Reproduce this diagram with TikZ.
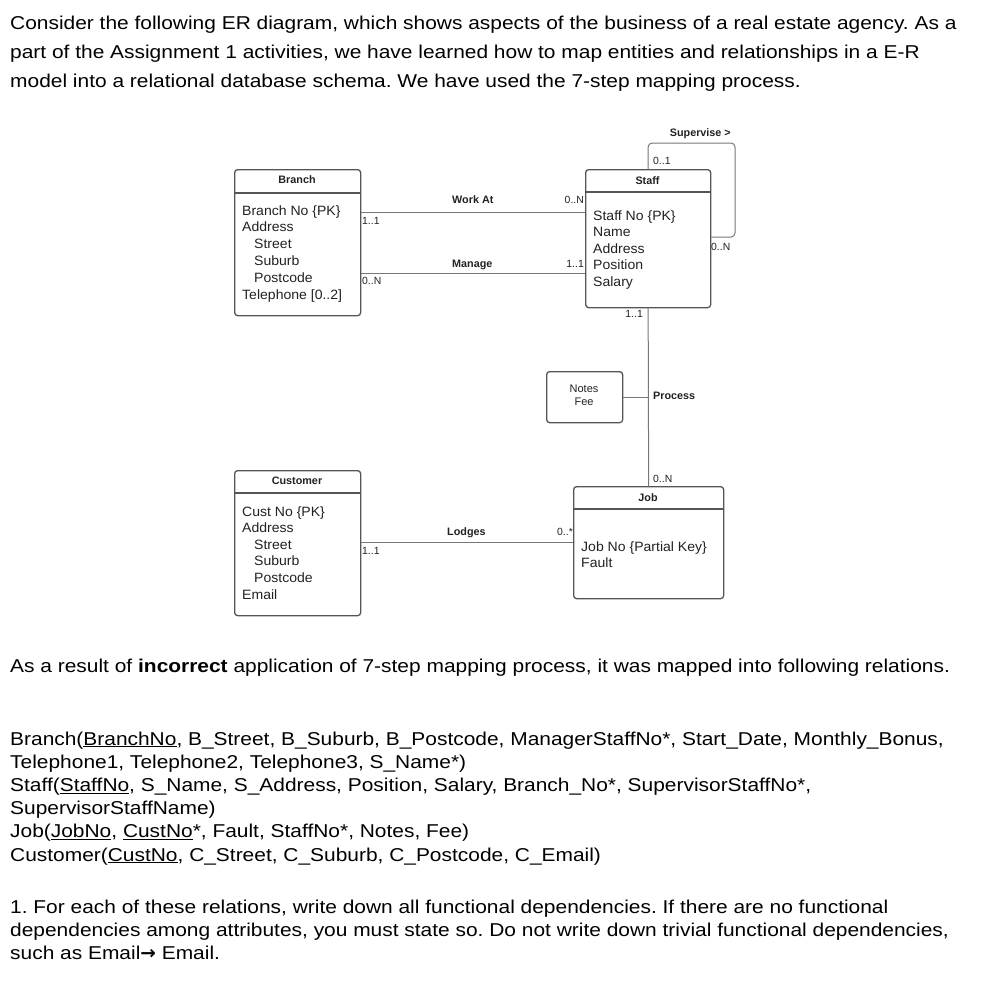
\documentclass[tikz,border=0pt]{standalone}
\usepackage{fontspec}
\setmainfont{Liberation Sans}
\newfontfamily\bodyfont[FakeStretch=1.125]{Liberation Sans}
\newfontfamily\attrfont[FakeStretch=1.04]{Liberation Sans}
\newfontfamily\arrowfont{DejaVu Sans}
\definecolor{boxc}{HTML}{555555}
\definecolor{linec}{HTML}{777777}
\definecolor{dtext}{HTML}{222222}
\frenchspacing
\begin{document}
\begin{tikzpicture}[x=1pt,y=-1pt,
  ent/.style={draw=boxc, line width=1.3pt, rounded corners=3pt, anchor=north west, inner sep=0pt},
  entline/.style={draw=boxc, line width=1.3pt},
  conn/.style={draw=linec, line width=1pt},
  hdr/.style={font=\fontsize{10.8}{13}\selectfont\bfseries, text=dtext, anchor=base, inner sep=0pt},
  attr/.style={font=\attrfont\fontsize{13.5}{16.7}\selectfont, text=dtext, anchor=base west, inner sep=0pt},
  card/.style={font=\fontsize{10.4}{12}\selectfont, text=dtext, anchor=base west, inner sep=0pt},
  rel/.style={font=\fontsize{10.8}{13}\selectfont\bfseries, text=dtext, anchor=base west, inner sep=0pt},
  small/.style={font=\fontsize{11}{12.5}\selectfont, text=dtext, anchor=base, inner sep=0pt},
  body/.style={font=\bodyfont\fontsize{18.6}{23}\selectfont, anchor=base west, inner sep=0pt}]
\fill[white] (0,0) rectangle (993,980);
\path[use as bounding box] (0,0) rectangle (993,980);

% ---------- top paragraph ----------
\node[body] (p1) at (10,29) {Consider the following ER diagram, which shows aspects of the business of a real estate agency. As a};
\node[body] (p2) at (10,58) {part of the Assignment 1 activities, we have learned how to map entities and relationships in a E-R};
\node[body] (p3) at (10,87) {model into a relational database schema. We have used the 7-step mapping process.};

% ---------- entities ----------
\node[ent, minimum width=126pt, minimum height=146pt] (branch) at (234,169) {};
\draw[entline] (234,193) -- (360,193);
\node[hdr] (branchh) at (297,183) {Branch};
\foreach \t [count=\i] in {Branch No \{PK\}, Address, {\hspace*{12pt}Street}, {\hspace*{12pt}Suburb}, {\hspace*{12pt}Postcode}, Telephone [0..2]}
  \node[attr] (brancha\i) at (242,{215+16.8*(\i-1)}) {\t};

\node[ent, minimum width=125pt, minimum height=138pt] (staff) at (585,169) {};
\draw[entline] (585,192) -- (710,192);
\node[hdr] (staffh) at (647.5,184) {Staff};
\foreach \t [count=\i] in {Staff No \{PK\}, Name, Address, Position, Salary}
  \node[attr] (staffa\i) at (593,{220+16.5*(\i-1)}) {\t};

\node[ent, minimum width=126pt, minimum height=145pt] (customer) at (234,470) {};
\draw[entline] (234,493) -- (360,493);
\node[hdr] (customerh) at (297,484) {Customer};
\foreach \t [count=\i] in {Cust No \{PK\}, Address, {\hspace*{12pt}Street}, {\hspace*{12pt}Suburb}, {\hspace*{12pt}Postcode}, Email}
  \node[attr] (customera\i) at (242,{516+16.6*(\i-1)}) {\t};

\node[ent, minimum width=150pt, minimum height=112pt] (job) at (573,486) {};
\draw[entline] (573,509) -- (723,509);
\node[hdr] (jobh) at (648,501) {Job};
\node[attr] (joba1) at (581,551) {Job No \{Partial Key\}};
\node[attr] (joba2) at (581,567) {Fault};

\node[ent, minimum width=76pt, minimum height=51pt] (notes) at (546,371) {};
\node[small] (notest1) at (584,392) {Notes};
\node[small] (notest2) at (584,405) {Fee};

% ---------- connectors ----------
\draw[conn] (branch.east |- 0,212) -- (staff.west |- 0,212);
\draw[conn] (branch.east |- 0,273) -- (staff.west |- 0,273);
\draw[conn] (customer.east |- 0,542) -- (job.west |- 0,542);
\draw[conn] (staff.south) -- (job.north);
\draw[conn] (notes.east) -- (notes.east -| staff.south);
\draw[conn, rounded corners=4pt] (staff.north) -- (staff.north |- 0,143) -- (735,143) -- (735,237) -- (staff.east |- 0,237);

% ---------- labels ----------
\node[rel] (lwork) at (452,203) {Work At};
\node[rel] (lmanage) at (452,267) {Manage};
\node[rel] (llodges) at (447,535) {Lodges};
\node[rel] (lprocess) at (653,399) {Process};
\node[rel, anchor=base east] (lsup) at (731,136) {Supervise >};

\node[card] (c1) at (362,224) {1..1};
\node[card] (c2) at (362,284) {0..N};
\node[card, anchor=base east] (c3) at (584,203) {0..N};
\node[card, anchor=base east] (c4) at (584,267) {1..1};
\node[card] (c5) at (653,164) {0..1};
\node[card] (c6) at (711,250) {0..N};
\node[card, anchor=base east] (c7) at (643,317) {1..1};
\node[card] (c8) at (653,482) {0..N};
\node[card, anchor=base east] (c9) at (573,535) {0..*};
\node[card] (c10) at (362,554) {1..1};

% ---------- lower text ----------
\node[body] (q0) at (10,672) {As a result of \textbf{incorrect} application of 7-step mapping process, it was mapped into following relations.};
\node[body] (r1) at (10,745) {Branch(\underline{BranchNo}, B\_Street, B\_Suburb, B\_Postcode, ManagerStaffNo*, Start\_Date, Monthly\_Bonus,};
\node[body] (r2) at (10,768.2) {Telephone1, Telephone2, Telephone3, S\_Name*)};
\node[body] (r3) at (10,791.4) {Staff(\underline{StaffNo}, S\_Name, S\_Address, Position, Salary, Branch\_No*, SupervisorStaffNo*,};
\node[body] (r4) at (10,814.6) {SupervisorStaffName)};
\node[body] (r5) at (10,837.8) {Job(\underline{JobNo}, \underline{CustNo}*, Fault, StaffNo*, Notes, Fee)};
\node[body] (r6) at (10,861) {Customer(\underline{CustNo}, C\_Street, C\_Suburb, C\_Postcode, C\_Email)};
\node[body] (q1) at (10,913) {1. For each of these relations, write down all functional dependencies. If there are no functional};
\node[body] (q2) at (10,936) {dependencies among attributes, you must state so. Do not write down trivial functional dependencies,};
\node[body] (q3) at (10,959) {such as Email{\arrowfont\bfseries →} Email.};
\end{tikzpicture}
\end{document}
